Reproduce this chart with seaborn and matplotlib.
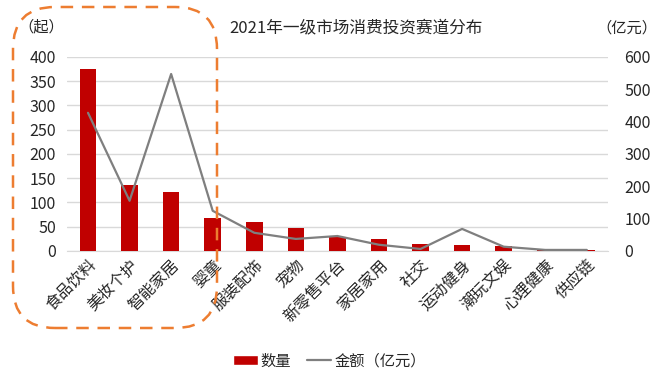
import numpy as np
import pandas as pd
import matplotlib
matplotlib.use("Agg")
import matplotlib.pyplot as plt
from matplotlib.patches import FancyBboxPatch, Patch
from matplotlib.lines import Line2D
import seaborn as sns

# 数据
categories = ["食品饮料", "美妆个护", "智能家居", "婴童", "服装配饰", "宠物", "新零售平台",
              "家居家用", "社交", "运动健身", "潮玩文娱", "心理健康", "供应链"]
counts = [375, 136, 122, 68, 60, 47, 28, 25, 14, 12, 10, 3, 2]
amounts = [427, 155, 547, 124, 56, 37, 46, 19, 6, 68, 13, 3, 3]

sns.set_style("white")
plt.rcParams['font.family'] = ['Noto Sans CJK SC', 'DejaVu Sans']

df = pd.DataFrame({"赛道": categories, "数量": counts, "金额": amounts})

fig = plt.figure(figsize=(6.59, 3.79), dpi=100)
ax = fig.add_axes([0.102, 0.338, 0.82, 0.512])

sns.barplot(data=df, x="赛道", y="数量", color="#C00000", width=0.4,
            saturation=1, ax=ax, zorder=3, linewidth=0)
ax.set_ylim(0, 400)
ax.set_yticks(range(0, 401, 50))
ax.set_xlim(-0.5, len(categories) - 0.5)
ax.set_xlabel("")
ax.set_ylabel("")
ax.grid(axis="y", color="#D9D9D9", linewidth=1, zorder=0)
ax.set_axisbelow(True)
for s in ["top", "right", "left"]:
    ax.spines[s].set_visible(False)
ax.spines["bottom"].set_color("#D9D9D9")
ax.tick_params(axis="x", length=0, labelsize=11.5, pad=4)
ax.tick_params(axis="y", length=0, labelsize=11.5, pad=8)
plt.setp(ax.get_xticklabels(), rotation=45, ha="right", rotation_mode="anchor")

ax2 = ax.twinx()
sns.lineplot(x=np.arange(len(categories)), y=amounts, color="#7F7F7F",
             linewidth=1.6, ax=ax2, zorder=4)
ax2.set_ylim(0, 600)
ax2.set_yticks(range(0, 601, 100))
for s in ["top", "right", "left", "bottom"]:
    ax2.spines[s].set_visible(False)
ax2.tick_params(axis="y", length=0, labelsize=11.5, pad=12)

fig.text(0.54, 0.926, "2021年一级市场消费投资赛道分布", ha="center", va="center", fontsize=12)
fig.text(0.063, 0.93, "（起）", ha="center", va="center", fontsize=11)
fig.text(0.952, 0.926, "（亿元）", ha="center", va="center", fontsize=11)

handles = [Patch(facecolor="#C00000"), Line2D([], [], color="#7F7F7F", linewidth=1.6)]
fig.legend(handles, ["数量", "金额（亿元）"], loc="center", bbox_to_anchor=(0.5, 0.048),
           ncol=2, frameon=False, fontsize=11, handlelength=1.6, handletextpad=0.2,
           columnspacing=1.0)

# 橙色虚线圆角框
box = FancyBboxPatch((0.13, 0.51), 2.04, 3.21, boxstyle="round,pad=0,rounding_size=0.42",
                     transform=fig.dpi_scale_trans, fill=False, edgecolor="#ED7D31",
                     linewidth=1.8, linestyle=(0, (5, 3.5)), zorder=10)
fig.patches.append(box)

fig.savefig("out.png", dpi=100)
